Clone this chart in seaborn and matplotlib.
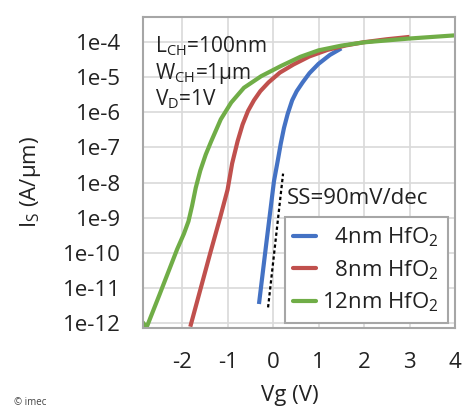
import numpy as np
import pandas as pd
import matplotlib
matplotlib.use("Agg")
import matplotlib.pyplot as plt
import seaborn as sns
from matplotlib.ticker import FixedLocator, LogLocator, NullFormatter, MultipleLocator

# Id-Vg curves (Vg in V, Is in A/um)
vg_4nm = [-0.31, -0.15, 0.02, 0.10, 0.17, 0.24, 0.32, 0.42, 0.52, 0.65, 0.80,
          1.00, 1.25, 1.50]
is_4nm = [3.5e-12, 1.8e-10, 1.1e-8, 4.0e-8, 1.3e-7, 3.6e-7, 8.9e-7, 2.2e-6,
          4.0e-6, 7.1e-6, 1.3e-5, 2.4e-5, 4.3e-5, 6.6e-5]

vg_8nm = [-1.82, -1.60, -1.38, -1.16, -1.00, -0.90, -0.78, -0.67, -0.55, -0.42,
          -0.28, -0.10, 0.15, 0.45, 0.80, 1.20, 1.60, 2.00, 2.50, 3.00]
is_8nm = [7.9e-13, 8.9e-12, 1.0e-10, 1.05e-9, 6.3e-9, 3.5e-8, 1.5e-7, 4.5e-7,
          1.1e-6, 2.2e-6, 4.0e-6, 7.1e-6, 1.35e-5, 2.3e-5, 3.9e-5, 6.0e-5,
          8.0e-5, 9.9e-5, 1.2e-4, 1.4e-4]

vg_12nm = [-2.87, -2.78, -2.50, -2.11, -1.96, -1.86, -1.78, -1.70, -1.60, -1.48,
           -1.36, -1.15, -0.92, -0.64, -0.26, 0.18, 0.60, 1.00, 1.50, 2.00,
           3.00, 4.00]
is_12nm = [1.07e-12, 7.6e-13, 6.3e-12, 1.26e-10, 3.5e-10, 7.9e-10, 2.2e-9,
           7.1e-9, 2.2e-8, 6.3e-8, 1.5e-7, 6.3e-7, 1.9e-6, 5.0e-6, 1.07e-5,
           2.1e-5, 3.8e-5, 5.8e-5, 7.9e-5, 9.8e-5, 1.26e-4, 1.55e-4]

labels = ["4nm HfO$_\\mathregular{2}$", "8nm HfO$_\\mathregular{2}$",
          "12nm HfO$_\\mathregular{2}$"]
colors = ["#4472C4", "#C0504D", "#70AD47"]

# 90 mV/dec reference line
ss_vg = [-0.11, 0.22]
ss_is = [2.8e-12, 1.8e-8]

y_ticks = [1e-12, 1e-11, 1e-10, 1e-9, 1e-8, 1e-7, 1e-6, 1e-5, 1e-4]
y_ticklabels = ["1e-12", "1e-11", "1e-10", "1e-9", "1e-8", "1e-7", "1e-6", "1e-5", "1e-4"]
x_ticks = [-2, -1, 0, 1, 2, 3, 4]

df = pd.concat([
    pd.DataFrame({"Vg": vg_4nm, "Is": is_4nm, "oxide": labels[0]}),
    pd.DataFrame({"Vg": vg_8nm, "Is": is_8nm, "oxide": labels[1]}),
    pd.DataFrame({"Vg": vg_12nm, "Is": is_12nm, "oxide": labels[2]}),
])

sns.set_style("white")
plt.rcParams["font.family"] = ["Open Sans", "DejaVu Sans"]
plt.rcParams["mathtext.default"] = "regular"
plt.rcParams["axes.unicode_minus"] = False

fig = plt.figure(figsize=(4.65, 4.07), dpi=100)
ax = fig.add_axes([0.3075, 0.194, 0.671, 0.764])

sns.lineplot(data=df, x="Vg", y="Is", hue="oxide", palette=colors,
             hue_order=labels, sort=False, linewidth=3.0, ax=ax, legend=False)
for ln in ax.get_lines():
    ln.set_solid_joinstyle("round")
    ln.set_solid_capstyle("butt")
ax.plot(ss_vg, ss_is, color="black", linestyle=(0, (1.5, 1.2)), linewidth=1.6)

ax.set_yscale("log")
ax.set_xlim(-2.86, 4.0)
ax.set_ylim(10 ** -12.14, 10 ** -3.29)

ax.yaxis.set_major_locator(FixedLocator(y_ticks))
ax.set_yticklabels(y_ticklabels)
ax.yaxis.set_minor_locator(LogLocator(base=10, subs=np.arange(2, 10), numticks=20))
ax.yaxis.set_minor_formatter(NullFormatter())
ax.set_xticks(x_ticks)
ax.xaxis.set_minor_locator(MultipleLocator(0.5))

grid_c = "#d9d9d9"
spine_c = "#a6a6a6"
ax.grid(True, which="major", color=grid_c, linewidth=1.2)
ax.set_axisbelow(True)
for s in ax.spines.values():
    s.set_color(spine_c)
    s.set_linewidth(1.5)
ax.tick_params(axis="both", which="major", direction="out", length=10, width=1.3,
               color=spine_c, labelsize=16, labelcolor="#222222")
ax.tick_params(axis="x", which="major", pad=7)
ax.tick_params(axis="y", which="major", pad=6)
ax.tick_params(axis="both", which="minor", direction="out", length=5, width=1.1,
               color=spine_c)

ax.set_xlabel("Vg (V)", fontsize=16, color="#222222")
ax.set_ylabel("I$_\\mathregular{S}$ (A/\u03bcm)", fontsize=16, color="#222222")
ax.yaxis.set_label_coords(-0.32, 0.47)
ax.xaxis.set_label_coords(0.47, -0.182)

ax.text(0.04, 0.885, "L$_\\mathregular{CH}$=100nm", transform=ax.transAxes,
        fontsize=15, color="#222222")
ax.text(0.04, 0.80, "W$_\\mathregular{CH}$=1\u03bcm", transform=ax.transAxes,
        fontsize=15, color="#222222")
ax.text(0.04, 0.715, "V$_\\mathregular{D}$=1V", transform=ax.transAxes,
        fontsize=15, color="#222222")
ax.text(0.46, 0.40, "SS=90mV/dec", transform=ax.transAxes,
        fontsize=16, color="#222222")

handles = [plt.Line2D([], [], color=c, linewidth=3.0) for c in colors]
leg_labels = ["\u2007" + labels[0], "\u2007" + labels[1], labels[2]]
leg = ax.legend(handles, leg_labels, loc="lower right",
                bbox_to_anchor=(0.978, 0.016), borderaxespad=0,
                fontsize=16, handlelength=1.0, handletextpad=0.3,
                labelspacing=0.4, borderpad=0.4, frameon=True,
                fancybox=False, framealpha=1)
leg.get_frame().set_edgecolor(spine_c)
leg.get_frame().set_linewidth(1.5)
for t in leg.get_texts():
    t.set_color("#222222")

fig.text(0.03, 0.005, "\u00a9 imec", fontsize=7, color="#444444")

fig.savefig("out.png", dpi=100)
